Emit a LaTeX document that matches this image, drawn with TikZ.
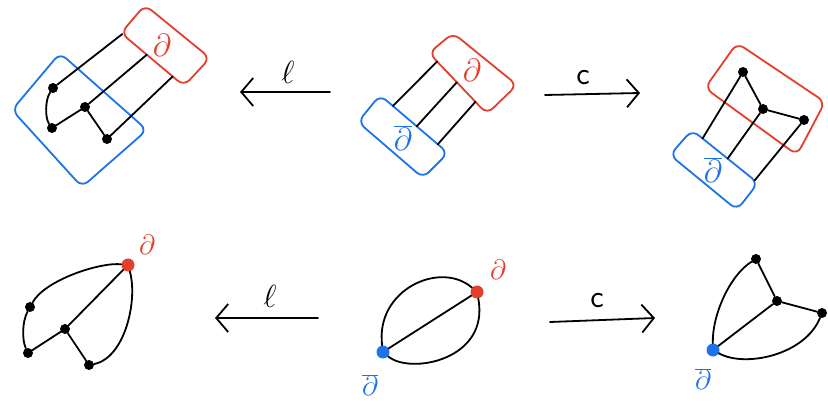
\RequirePackage{fix-cm}
\documentclass[tikz,border=0pt]{standalone}
\usetikzlibrary{arrows.meta,calc}
\definecolor{hred}{RGB}{228,62,45}
\definecolor{hblue}{RGB}{28,116,232}
\begin{document}
\begin{tikzpicture}[x=1pt,y=-1pt,
  redbox/.style={draw=hred,line width=1.8pt,rounded corners=8pt},
  bluebox/.style={draw=hblue,line width=1.8pt,rounded corners=8pt},
  edge/.style={draw=black,line width=1.8pt,line cap=round},
  bdotk/.style={circle,fill=black,inner sep=0pt,minimum size=10pt},
  rdot/.style={circle,fill=hred,inner sep=0pt,minimum size=13pt},
  udot/.style={circle,fill=hblue,inner sep=0pt,minimum size=13pt},
  arr/.style={line width=1.8pt,line cap=round,-{Straight Barb[length=12pt,width=28pt]}},
  rlab/.style={text=hred,font=\fontsize{32}{34}\selectfont,inner sep=0pt},
  blab/.style={text=hblue,font=\fontsize{32}{34}\selectfont,inner sep=0pt},
  rlabs/.style={text=hred,font=\fontsize{28}{30}\selectfont,inner sep=0pt},
  blabs/.style={text=hblue,font=\fontsize{28}{30}\selectfont,inner sep=0pt},
  alab/.style={font=\fontsize{32}{34}\selectfont,inner sep=0pt}]
\useasboundingbox (0,0) rectangle (828,406);

% ---------- top left ----------
\coordinate (tlrA) at (121,33); \coordinate (tlrB) at (145,5);
\coordinate (tlrC) at (210,58); \coordinate (tlrD) at (184,86);
\coordinate (tlbT) at (60,53); \coordinate (tlbR) at (147,130);
\coordinate (tlbB) at (82,187); \coordinate (tlbL) at (12,110);
\draw[bluebox] (tlbT) -- (tlbR) -- (tlbB) -- (tlbL) -- cycle;
\draw[redbox] (tlrA) -- (tlrB) -- (tlrC) -- (tlrD) -- cycle;
\node[rlab] (tlrl) at (162,45) {$\partial$};
\node[bdotk] (tla) at (53,88) {};
\node[bdotk] (tlc) at (52,128) {};
\node[bdotk] (tlb) at (85,107) {};
\node[bdotk] (tld) at (107,139) {};
\coordinate (tle1) at ($(tlrA)!0.02!(tlrD)$);
\coordinate (tle2) at ($(tlrA)!0.41!(tlrD)$);
\coordinate (tle3) at ($(tlrA)!0.82!(tlrD)$);
\draw[edge] (tla) -- (tle1);
\draw[edge] (tlb) -- (tle2);
\draw[edge] (tld) -- (tle3);
\draw[edge] (tla) .. controls (45,100) and (45,118) .. (tlc);
\draw[edge] (tlc) -- (tlb);
\draw[edge] (tlb) -- (tld);

% ---------- top middle ----------
\coordinate (tmrL) at (429,53); \coordinate (tmrT) at (453,33);
\coordinate (tmrR) at (517,85); \coordinate (tmrB) at (487,114);
\coordinate (tmbT) at (380,95); \coordinate (tmbR) at (448,153);
\coordinate (tmbB) at (423,178); \coordinate (tmbL) at (358,122);
\draw[redbox] (tmrL) -- (tmrT) -- (tmrR) -- (tmrB) -- cycle;
\draw[bluebox] (tmbT) -- (tmbR) -- (tmbB) -- (tmbL) -- cycle;
\node[rlab] (tmrl) at (472,70) {$\partial$};
\node[blab] (tmbl) at (403,138) {$\overline{\partial}$};
\foreach \i/\f/\g in {1/0.19/0.14, 2/0.54/0.48, 3/0.85/0.80}{
  \coordinate (tms\i) at ($(tmbT)!\f!(tmbR)$);
  \coordinate (tmt\i) at ($(tmrL)!\g!(tmrB)$);
  \draw[edge] (tms\i) -- (tmt\i);
}

% ---------- top right ----------
\coordinate (trrT) at (737,43); \coordinate (trrL) at (705,88);
\coordinate (trrB) at (797,155); \coordinate (trrR) at (825,102);
\coordinate (trbT) at (692,130); \coordinate (trbR) at (758,183);
\coordinate (trbB) at (737,210); \coordinate (trbL) at (670,155);
\draw[redbox] (trrT) -- (trrR) -- (trrB) -- (trrL) -- cycle;
\draw[bluebox] (trbT) -- (trbR) -- (trbB) -- (trbL) -- cycle;
\node[blab] (trbl) at (713,170) {$\overline{\partial}$};
\node[bdotk] (tr1) at (743,72) {};
\node[bdotk] (tr2) at (763,109) {};
\node[bdotk] (tr3) at (804,120) {};
\coordinate (tre1) at ($(trbT)!0.16!(trbR)$);
\coordinate (tre2) at ($(trbT)!0.54!(trbR)$);
\coordinate (tre3) at ($(trbT)!0.95!(trbR)$);
\draw[edge] (tr1) -- (tre1);
\draw[edge] (tr2) -- (tre2);
\draw[edge] (tr3) -- (tre3);
\draw[edge] (tr1) -- (tr2);
\draw[edge] (tr2) -- (tr3);

% ---------- top arrows ----------
\coordinate (tls) at (330,92); \coordinate (tle) at (240,92);
\draw[arr] (tls) -- (tle);
\node[alab] (tll) at (288,72) {$\ell$};
\coordinate (tcs) at (545,95); \coordinate (tce) at (640,93);
\draw[arr] (tcs) -- (tce);
\node[alab] (tcl) at (583,78) {\textsf{c}};

% ---------- bottom left ----------
\node[rdot] (blr) at (128,265) {};
\node[rlabs] (blrl) at (147,245) {$\partial$};
\node[bdotk] (bla) at (30,307) {};
\node[bdotk] (blb) at (65,329) {};
\node[bdotk] (blc) at (28,353) {};
\node[bdotk] (bld) at (89,365) {};
\draw[edge] (blr) .. controls (100,262) and (45,280) .. (bla);
\draw[edge] (bla) .. controls (22,322) and (22,340) .. (blc);
\draw[edge] (blc) -- (blb);
\draw[edge] (blb) -- (blr);
\draw[edge] (blb) -- (bld);
\draw[edge] (bld) .. controls (125,358) and (138,300) .. (blr);

% ---------- bottom middle ----------
\node[udot] (bmb) at (383,352) {};
\node[rdot] (bmr) at (477,292) {};
\node[rlabs] (bmrl) at (498,270) {$\partial$};
\node[blabs] (bmbl) at (370,385) {$\overline{\partial}$};
\draw[edge] (bmb) -- (bmr);
\draw[edge] (bmb) .. controls (375,290) and (440,260) .. (bmr);
\draw[edge] (bmb) .. controls (410,375) and (490,360) .. (bmr);

% ---------- bottom right ----------
\node[udot] (brb) at (713,350) {};
\node[blabs] (brbl) at (703,379) {$\overline{\partial}$};
\node[bdotk] (br1) at (756,259) {};
\node[bdotk] (br2) at (777,301) {};
\node[bdotk] (br3) at (822,313) {};
\draw[edge] (brb) .. controls (712,315) and (730,275) .. (br1);
\draw[edge] (brb) -- (br2);
\draw[edge] (brb) .. controls (745,368) and (805,355) .. (br3);
\draw[edge] (br1) -- (br2);
\draw[edge] (br2) -- (br3);

% ---------- bottom arrows ----------
\coordinate (bls) at (318,318); \coordinate (ble) at (215,318);
\draw[arr] (bls) -- (ble);
\node[alab] (bll) at (270,296) {$\ell$};
\coordinate (bcs) at (550,322); \coordinate (bce) at (655,318);
\draw[arr] (bcs) -- (bce);
\node[alab] (bcl) at (597,301) {\textsf{c}};
\end{tikzpicture}
\end{document}
